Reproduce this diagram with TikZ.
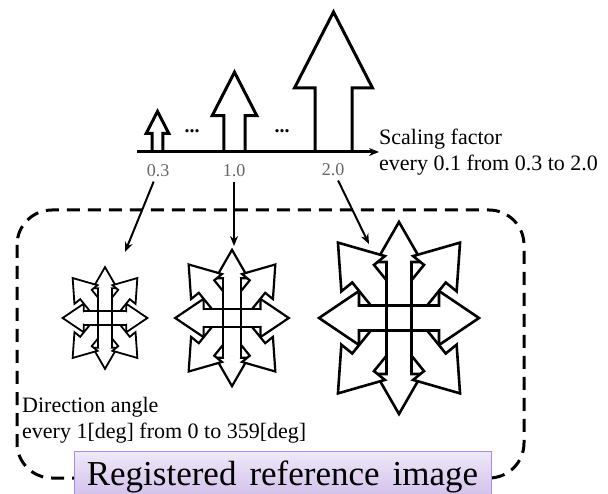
\documentclass[tikz,border=0pt]{standalone}
\usepackage{fontspec}
\setmainfont{Liberation Serif}
\usetikzlibrary{arrows.meta}
\definecolor{lavender}{RGB}{150,110,210}

% one arm of a star: angle, length, start of shaft, head half width, shaft half width
\newcommand{\fatarrow}[5]{%
  \draw[rotate=#1, fill=white] (#3,-#5) -- ({#2-40},-#5) -- ({#2-40},-#4)
    -- (#2,0) -- ({#2-40},#4) -- ({#2-40},#5) -- (#3,#5) -- cycle;}

% star of eight arms: centre x, centre y, size, line width
\newcommand{\arrowstar}[4]{%
  \begin{scope}[shift={(#1,#2)}, scale=#3, line width=#4]
    \foreach \a in {90,270} {\fatarrow{\a}{96}{-12.5}{23}{12.5}}
    \foreach \a in {0,180} {\fatarrow{\a}{80}{-12.5}{27}{12.5}}
    \foreach \a in {51,129,231,309} {\fatarrow{\a}{97}{0}{28}{14}}
    % shafts of the upright and level arms cross over the rest
    \fill[white] (-12.5,-56) rectangle (12.5,56);
    \fill[white] (-40,-12.5) rectangle (40,12.5);
    \draw (-12.5,-56) -- (-12.5,56) (12.5,-56) -- (12.5,56);
    \draw (-40,-12.5) -- (40,-12.5) (-40,12.5) -- (40,12.5);
  \end{scope}}

% upright arrow standing on the axis: x, size
\newcommand{\scalearrow}[2]{%
  \begin{scope}[shift={(#1,152)}, scale=#2]
    \draw[fill=white, line width=3pt] (-18.5,0) -- (-18.5,-64) -- (-39,-64)
      -- (0,-140) -- (39,-64) -- (18.5,-64) -- (18.5,0);
  \end{scope}}

\begin{document}
\begin{tikzpicture}[x=1pt, y=-1pt, >={Stealth[length=10pt,width=8pt]},
    scaletick/.style={text=black!60, font=\fontsize{18}{18}\selectfont},
    note/.style={align=left, inner sep=0pt, font=\fontsize{22}{26}\selectfont},
    link/.style={->, line width=2pt, shorten <=1pt},
    groupbox/.style={line width=3pt, dash pattern=on 13pt off 8pt, rounded corners=35pt},
    regbox/.style={draw=lavender!80, line width=1pt, top color=lavender!15,
      bottom color=lavender!55, minimum width=417pt, text height=24pt,
      text depth=20pt, inner ysep=10pt, font=\fontsize{35}{35}\selectfont,
      execute at begin node={\spaceskip=13pt\relax}}]
	\useasboundingbox (0,0) rectangle (608,494);

	% Scaling axis with its arrows
	\scalearrow{157.5}{0.29}
	\scalearrow{234.5}{0.57}
	\scalearrow{333.5}{1}
	\draw[->, line width=3pt] (137,152) -- (379,152);
	\node [font=\fontsize{20}{20}\selectfont\bfseries] (dots1) at (192,131) {...};
	\node [font=\fontsize{20}{20}\selectfont\bfseries] (dots2) at (282,131) {...};

	\node [scaletick] (l03) at (158,171) {0.3};
	\node [scaletick] (l10) at (234,171) {1.0};
	\node [scaletick] (l20) at (333,170) {2.0};
	\node [note, anchor=west] (scl) at (379,152) {Scaling factor\\every 0.1 from 0.3 to 2.0};

	% Group of rotated arrows
	\draw [groupbox] (17,210) rectangle (524,478);
	\arrowstar{105}{318}{0.53}{1.8pt}
	\arrowstar{232}{318}{0.71}{2.2pt}
	\arrowstar{399}{318}{1}{2.6pt}
	\node [note, anchor=west] (dir) at (22,420) {Direction angle\\every 1[deg] from 0 to 359[deg]};
	\node [regbox, anchor=base] (reg) at (282.5,485) {Registered reference image};

	% Links from the scale values
	\coordinate (t03) at (125,252);
	\coordinate (t10) at (234,246);
	\coordinate (t20) at (369,244);
	\draw [link] (l03) -- (t03);
	\draw [link] (l10) -- (t10);
	\draw [link] (l20) -- (t20);
\end{tikzpicture}
\end{document}
